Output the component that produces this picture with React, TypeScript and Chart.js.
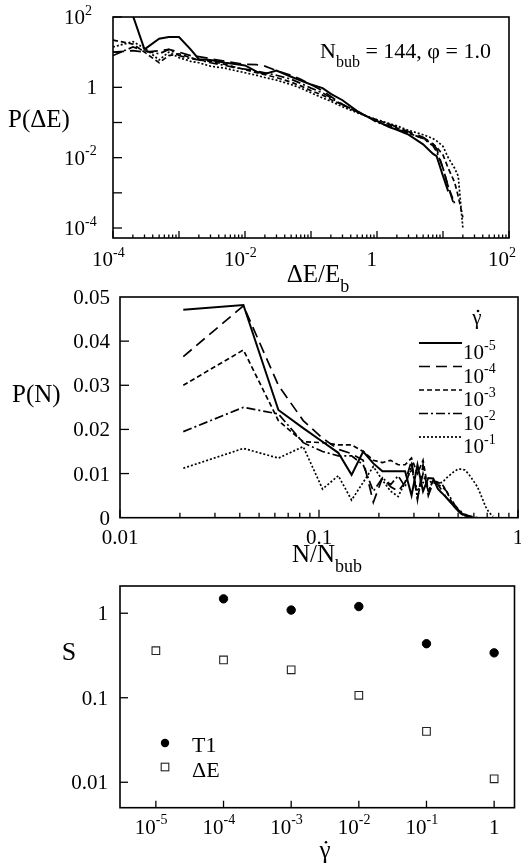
import React, { useEffect, useRef } from 'react';
import { Chart, registerables } from 'chart.js';

Chart.register(...registerables);

const SERIF = '"Liberation Serif", "Times New Roman", serif';

// top panel: P(dE) against dE/E_b, one curve per strain rate
const dEBins = [1e-4, 2e-4, 3e-4, 5e-4, 7e-4, 1e-3, 1.5e-3, 2e-3, 3e-3, 5e-3, 7e-3, 0.01, 0.015, 0.02, 0.03, 0.05, 0.07, 0.1, 0.15, 0.2, 0.3, 0.5, 0.7, 1, 1.5, 2, 3, 5, 7, 8, 10, 12, 15, 17, 20];
const pdE5 = [null, 110, 12, 24, 27, 27, 12, 6.3, 6, 5, 4.6, 4.2, 2.8, 2.4, 3.0, 2.0, 1.55, 1.2, 0.95, 0.65, 0.43, 0.21, 0.15, 0.11, 0.075, 0.062, 0.045, 0.024, 0.013, 0.011, 0.003, 0.0011, null, null, null];
const pdE4 = [10, 11, 10, 11, 12, 10, 8, 7.5, 6.5, 5.5, 5, 4.5, 4.4, 4, 3, 2.2, 1.7, 1.2, 0.8, 0.55, 0.33, 0.2, 0.15, 0.11, 0.09, 0.075, 0.055, 0.038, 0.025, 0.018, 0.005, 0.0015, 0.0004, null, null];
const pdE3 = [22, 17, 10, 5, 8, 9, 7, 6, 5.5, 4.5, 3.8, 3.2, 2.6, 2.3, 1.9, 1.4, 1.1, 0.8, 0.6, 0.45, 0.32, 0.2, 0.15, 0.12, 0.09, 0.07, 0.05, 0.035, 0.025, 0.02, 0.012, 0.005, 0.002, 0.0008, 0.0002];
const pdE2 = [8, 14, 11, 9, 12, 8, 6.5, 6, 5, 4.2, 3.6, 3.3, 2.9, 2.6, 2.2, 1.7, 1.3, 0.95, 0.7, 0.5, 0.32, 0.21, 0.15, 0.1, 0.08, 0.065, 0.05, 0.035, 0.022, 0.015, 0.005, 0.0015, 0.0005, null, null];
const pdE1 = [14, 20, 13, 6, 10, 7, 5.5, 5, 4, 3.5, 3, 2.6, 2.2, 1.9, 1.6, 1.2, 0.95, 0.7, 0.5, 0.4, 0.28, 0.19, 0.15, 0.12, 0.095, 0.08, 0.06, 0.045, 0.035, 0.03, 0.021, 0.01, 0.005, 0.003, 0.0001];
const dEExps = [-4, -2, 0, 2];
const pdEExps = [-4, -2, 0, 2];

// middle panel: P(N) against N/N_bub
const nBins = [0.0208, 0.0417, 0.0625, 0.0833, 0.1042, 0.125, 0.1458, 0.1667, 0.1875, 0.2083, 0.2292, 0.25, 0.2708, 0.2917, 0.3125, 0.3333, 0.3542, 0.375, 0.3958, 0.4167, 0.4375, 0.4583, 0.4792, 0.5, 0.5208, 0.5417, 0.5625, 0.5833, 0.6042, 0.625, 0.6458, 0.6667, 0.6875, 0.7083, 0.7292, 0.75];
const pN5 = [0.0471, 0.0482, 0.0244, 0.0203, 0.0172, 0.0147, 0.0097, 0.015, 0.0123, 0.0105, 0.0105, 0.0105, 0.0105, 0.005, 0.012, 0.006, 0.009, 0.0089, 0.0065, 0.0055, 0.0045, 0.0035, 0.0025, 0.0018, 0.001, 0.0005, 0.0002, 0, null, null, null, null, null, null, null, null];
const pN4 = [0.0365, 0.048, 0.03, 0.022, 0.018, 0.0155, 0.0145, 0.013, 0.0035, 0.009, 0.007, 0.006, 0.008, 0.013, 0.004, 0.012, 0.005, 0.008, 0.0075, 0.006, 0.0045, 0.0035, 0.0025, 0.0015, 0.0008, 0.0004, 0.0002, 0, null, null, null, null, null, null, null, null];
const pN3 = [0.03, 0.038, 0.022, 0.0172, 0.017, 0.0165, 0.0165, 0.015, 0.013, 0.0125, 0.013, 0.012, 0.012, 0.0135, 0.01, 0.013, 0.006, 0.0085, 0.008, 0.0075, 0.006, 0.004, 0.0025, 0.0015, 0.001, 0.0006, 0.0003, 0.0001, 0, null, null, null, null, null, null, null];
const pN2 = [0.0195, 0.025, 0.0235, 0.017, 0.015, 0.014, 0.014, 0.012, 0.006, 0.009, 0.0075, 0.0095, 0.007, 0.012, 0.0045, 0.01, 0.006, 0.0085, 0.0075, 0.007, 0.006, 0.0045, 0.003, 0.002, 0.0013, 0.0008, 0.0005, 0.0003, 0.0001, 0, null, null, null, null, null, null];
const pN1 = [0.0112, 0.0157, 0.0135, 0.0161, 0.0065, 0.0095, 0.004, 0.008, 0.0116, 0.0085, 0.006, 0.0048, 0.008, 0.011, 0.006, 0.008, 0.0078, 0.0085, 0.0078, 0.008, 0.009, 0.0098, 0.0105, 0.011, 0.011, 0.0108, 0.01, 0.009, 0.008, 0.007, 0.0055, 0.004, 0.0025, 0.0015, 0.0008, 0.0003];
const pNTicks = [0, 0.01, 0.02, 0.03, 0.04, 0.05];
const nTicks = [0.01, 0.1, 1];

// bottom panel: S against strain rate
const rates = [1e-5, 1e-4, 1e-3, 1e-2, 1e-1, 1];
const sT1 = [null, 1.48, 1.09, 1.2, 0.436, 0.34];
const sDE = [0.36, 0.28, 0.214, 0.107, 0.04, 0.011];
const rateExps = [-5, -4, -3, -2, -1, 0];
const sTicks = [0.01, 0.1, 1];

const rateLegend = [-5, -4, -3, -2, -1];
const dashes = [[], [11, 6], [5, 3], [9, 3, 2, 3], [2, 2]];
const widths = [2, 1.7, 1.7, 1.7, 1.7];

type Part = [string, 'n' | 'sup' | 'sub'];
type Align = 'left' | 'right' | 'center' | 'base';

function rich(ctx: CanvasRenderingContext2D, parts: Part[], x: number, y: number, size: number, align: Align, small = 0.66) {
  const sz = (k: string) => (k === 'n' ? size : Math.round(size * small));
  const w = parts.map(([t, k]) => {
    ctx.font = `${sz(k)}px ${SERIF}`;
    return ctx.measureText(t).width;
  });
  const total = w.reduce((s, v) => s + v, 0);
  let cx = align === 'left' ? x : align === 'right' ? x - total : align === 'center' ? x - total / 2 : x - w[0];
  ctx.textAlign = 'left';
  ctx.textBaseline = 'alphabetic';
  parts.forEach(([t, k], i) => {
    ctx.font = `${sz(k)}px ${SERIF}`;
    const dy = k === 'sup' ? -size * 0.45 : k === 'sub' ? size * 0.4 : 0;
    ctx.fillText(t, cx, y + dy);
    cx += w[i];
  });
}

const pow = (k: number): Part[] => (k === 0 ? [['1', 'n']] : [['10', 'n'], [String(k), 'sup']]);

const pts = (xs: number[], ys: (number | null)[]) =>
  xs.flatMap((x, i) => (ys[i] === null ? [] : [{ x, y: ys[i] as number }]));

function frame(ctx: CanvasRenderingContext2D, a: any) {
  ctx.lineWidth = 1.6;
  ctx.setLineDash([]);
  ctx.strokeRect(a.left, a.top, a.right - a.left, a.bottom - a.top);
}

function tickX(ctx: CanvasRenderingContext2D, sx: any, a: any, v: number, len: number) {
  const px = sx.getPixelForValue(v);
  ctx.beginPath();
  ctx.moveTo(px, a.bottom);
  ctx.lineTo(px, a.bottom - len);
  ctx.stroke();
}

function tickY(ctx: CanvasRenderingContext2D, sy: any, a: any, v: number, len: number) {
  const py = sy.getPixelForValue(v);
  ctx.beginPath();
  ctx.moveTo(a.left, py);
  ctx.lineTo(a.left + len, py);
  ctx.stroke();
}

function logTicksX(ctx: CanvasRenderingContext2D, sx: any, a: any, lo: number, hi: number, major: number, minor: number) {
  ctx.lineWidth = 1.3;
  for (let d = lo; d <= hi; d++) {
    tickX(ctx, sx, a, 10 ** d, major);
    if (d < hi) for (let m = 2; m <= 9; m++) tickX(ctx, sx, a, m * 10 ** d, minor);
  }
}

function gammaDot(ctx: CanvasRenderingContext2D, x: number, y: number, size: number) {
  rich(ctx, [['γ', 'n']], x, y, size, 'center');
  ctx.beginPath();
  ctx.arc(x + 1, y - size * 0.62, 1.3, 0, Math.PI * 2);
  ctx.fill();
}

const lineSets = (xs: number[], series: (number | null)[][]) =>
  series.map((ys, i) => ({
    data: pts(xs, ys),
    showLine: true,
    borderColor: '#000',
    borderWidth: widths[i],
    borderDash: dashes[i],
    pointRadius: 0,
    fill: false,
    tension: 0,
  }));

const baseOptions = (padding: any, x: any, y: any) => ({
  animation: false as const,
  responsive: false,
  events: [],
  layout: { padding },
  plugins: { legend: { display: false }, tooltip: { enabled: false } },
  scales: { x: { ...x, display: false }, y: { ...y, display: false } },
});

const energyDeco = {
  id: 'energyDeco',
  afterDraw(chart: any) {
    const { ctx, chartArea: a } = chart;
    const { x, y } = chart.scales;
    ctx.save();
    ctx.fillStyle = '#000';
    ctx.strokeStyle = '#000';
    frame(ctx, a);
    logTicksX(ctx, x, a, -4, 2, 7, 3.5);
    for (let d = -4; d <= 2; d++) tickY(ctx, y, a, 10 ** d, 9);
    dEExps.forEach((k) => rich(ctx, pow(k), x.getPixelForValue(10 ** k), a.bottom + 28, 21, 'base'));
    pdEExps.forEach((k) => {
      const py = y.getPixelForValue(10 ** k) + 7;
      if (k === 0) rich(ctx, pow(k), a.left - 16, py, 21, 'right');
      else rich(ctx, pow(k), a.left - 28, py, 21, 'base');
    });
    rich(ctx, [['P(ΔE)', 'n']], 8, a.top + 110, 25, 'left');
    rich(ctx, [['ΔE/E', 'n'], ['b', 'sub']], a.left + 205, a.bottom + 44, 25, 'center', 0.72);
    rich(ctx, [['N', 'n'], ['bub', 'sub'], [' = 144, φ = 1.0', 'n']], a.left + 207, a.top + 41, 22, 'left', 0.72);
    ctx.restore();
  },
};

const sizeDeco = {
  id: 'sizeDeco',
  afterDraw(chart: any) {
    const { ctx, chartArea: a } = chart;
    const { x, y } = chart.scales;
    ctx.save();
    ctx.fillStyle = '#000';
    ctx.strokeStyle = '#000';
    frame(ctx, a);
    logTicksX(ctx, x, a, -2, 0, 8, 5);
    pNTicks.slice(1, -1).forEach((v) => tickY(ctx, y, a, v, 9));
    nTicks.forEach((v) => rich(ctx, [[String(v), 'n']], x.getPixelForValue(v), a.bottom + 26, 21, 'center'));
    pNTicks.forEach((v) => rich(ctx, [[v === 0 ? '0' : v.toFixed(2), 'n']], a.left - 10, y.getPixelForValue(v) + 7, 21, 'right'));
    rich(ctx, [['P(N)', 'n']], 12, a.top + 105, 25, 'left');
    rich(ctx, [['N/N', 'n'], ['bub', 'sub']], a.left + 207, a.bottom + 44, 25, 'center', 0.72);
    // legend: strain rates
    gammaDot(ctx, a.right - 41, a.top + 27, 21);
    chart.data.datasets.forEach((ds: any, i: number) => {
      const ly = a.top + 46 + i * 23.5;
      ctx.lineWidth = ds.borderWidth;
      ctx.setLineDash(ds.borderDash);
      ctx.beginPath();
      ctx.moveTo(a.right - 99, ly);
      ctx.lineTo(a.right - 56, ly);
      ctx.stroke();
      ctx.setLineDash([]);
      rich(ctx, pow(rateLegend[i]), a.right - 55, ly + 16, 21, 'left');
    });
    ctx.restore();
  },
};

const scaleDeco = {
  id: 'scaleDeco',
  afterDraw(chart: any) {
    const { ctx, chartArea: a } = chart;
    const { x, y } = chart.scales;
    ctx.save();
    ctx.fillStyle = '#000';
    ctx.strokeStyle = '#000';
    frame(ctx, a);
    ctx.lineWidth = 1.3;
    rateExps.forEach((k) => tickX(ctx, x, a, 10 ** k, 7));
    sTicks.forEach((v) => tickY(ctx, y, a, v, 8));
    rateExps.forEach((k) => rich(ctx, pow(k), x.getPixelForValue(10 ** k), a.bottom + 26, 21, k === 0 ? 'center' : 'base'));
    sTicks.forEach((v) => rich(ctx, [[String(v), 'n']], a.left - 12, y.getPixelForValue(v) + 7, 21, 'right'));
    rich(ctx, [['S', 'n']], 69, a.top + 74, 26, 'center');
    gammaDot(ctx, a.left + 205, a.bottom + 50, 25);
    // legend
    const mx = a.left + 45;
    ctx.beginPath();
    ctx.arc(mx, a.top + 157, 4.2, 0, Math.PI * 2);
    ctx.fill();
    ctx.lineWidth = 1.1;
    ctx.fillStyle = '#fff';
    ctx.fillRect(mx - 3.8, a.top + 177.2, 7.6, 7.6);
    ctx.strokeStyle = '#222';
    ctx.strokeRect(mx - 3.8, a.top + 177.2, 7.6, 7.6);
    ctx.fillStyle = '#000';
    rich(ctx, [['T1', 'n']], a.left + 72, a.top + 166, 22, 'left');
    rich(ctx, [['ΔE', 'n']], a.left + 72, a.top + 191, 22, 'left');
    ctx.restore();
  },
};

const makeEnergy = () => ({
  type: 'scatter' as const,
  data: { datasets: lineSets(dEBins, [pdE5, pdE4, pdE3, pdE2, pdE1]) },
  options: baseOptions(
    { left: 113, right: 12, top: 17, bottom: 62 },
    { type: 'logarithmic', min: 1e-4, max: 100 },
    { type: 'logarithmic', min: 5.2e-5, max: 100 }
  ),
  plugins: [energyDeco],
});

const makeSize = () => ({
  type: 'scatter' as const,
  data: { datasets: lineSets(nBins, [pN5, pN4, pN3, pN2, pN1]) },
  options: baseOptions(
    { left: 120, right: 3, top: 17, bottom: 62.3 },
    { type: 'logarithmic', min: 0.01, max: 1 },
    { type: 'linear', min: 0, max: 0.05 }
  ),
  plugins: [sizeDeco],
});

const makeScale = () => ({
  type: 'scatter' as const,
  data: {
    datasets: [
      {
        data: pts(rates, sT1),
        pointStyle: 'circle',
        pointRadius: 4.2,
        pointBackgroundColor: '#000',
        pointBorderColor: '#000',
        pointBorderWidth: 1,
      },
      {
        data: pts(rates, sDE),
        pointStyle: 'rect',
        pointRadius: 5.4,
        pointBackgroundColor: '#fff',
        pointBorderColor: '#222',
        pointBorderWidth: 1.1,
      },
    ],
  },
  options: baseOptions(
    { left: 120, right: 3, top: 16, bottom: 59.3 },
    { type: 'logarithmic', min: 2.95e-6, max: 2.0 },
    { type: 'logarithmic', min: 0.005, max: 2.1 }
  ),
  plugins: [scaleDeco],
});

const Panel: React.FC<{ top: number; height: number; make: () => any }> = ({ top, height, make }) => {
  const canvasRef = useRef<HTMLCanvasElement>(null);

  useEffect(() => {
    if (!canvasRef.current) return;
    const chart = new Chart(canvasRef.current, make());
    return () => chart.destroy();
  }, [make]);

  return (
    <canvas
      ref={canvasRef}
      width={521}
      height={height}
      style={{ position: 'absolute', left: 0, top, width: 521, height }}
    />
  );
};

export default function App() {
  return (
    <div style={{ position: 'absolute', left: 0, top: 0, width: 521, height: 867, background: '#fff', overflow: 'hidden' }}>
      <Panel top={0} height={300} make={makeEnergy} />
      <Panel top={280} height={300} make={makeSize} />
      <Panel top={570} height={297} make={makeScale} />
    </div>
  );
}
